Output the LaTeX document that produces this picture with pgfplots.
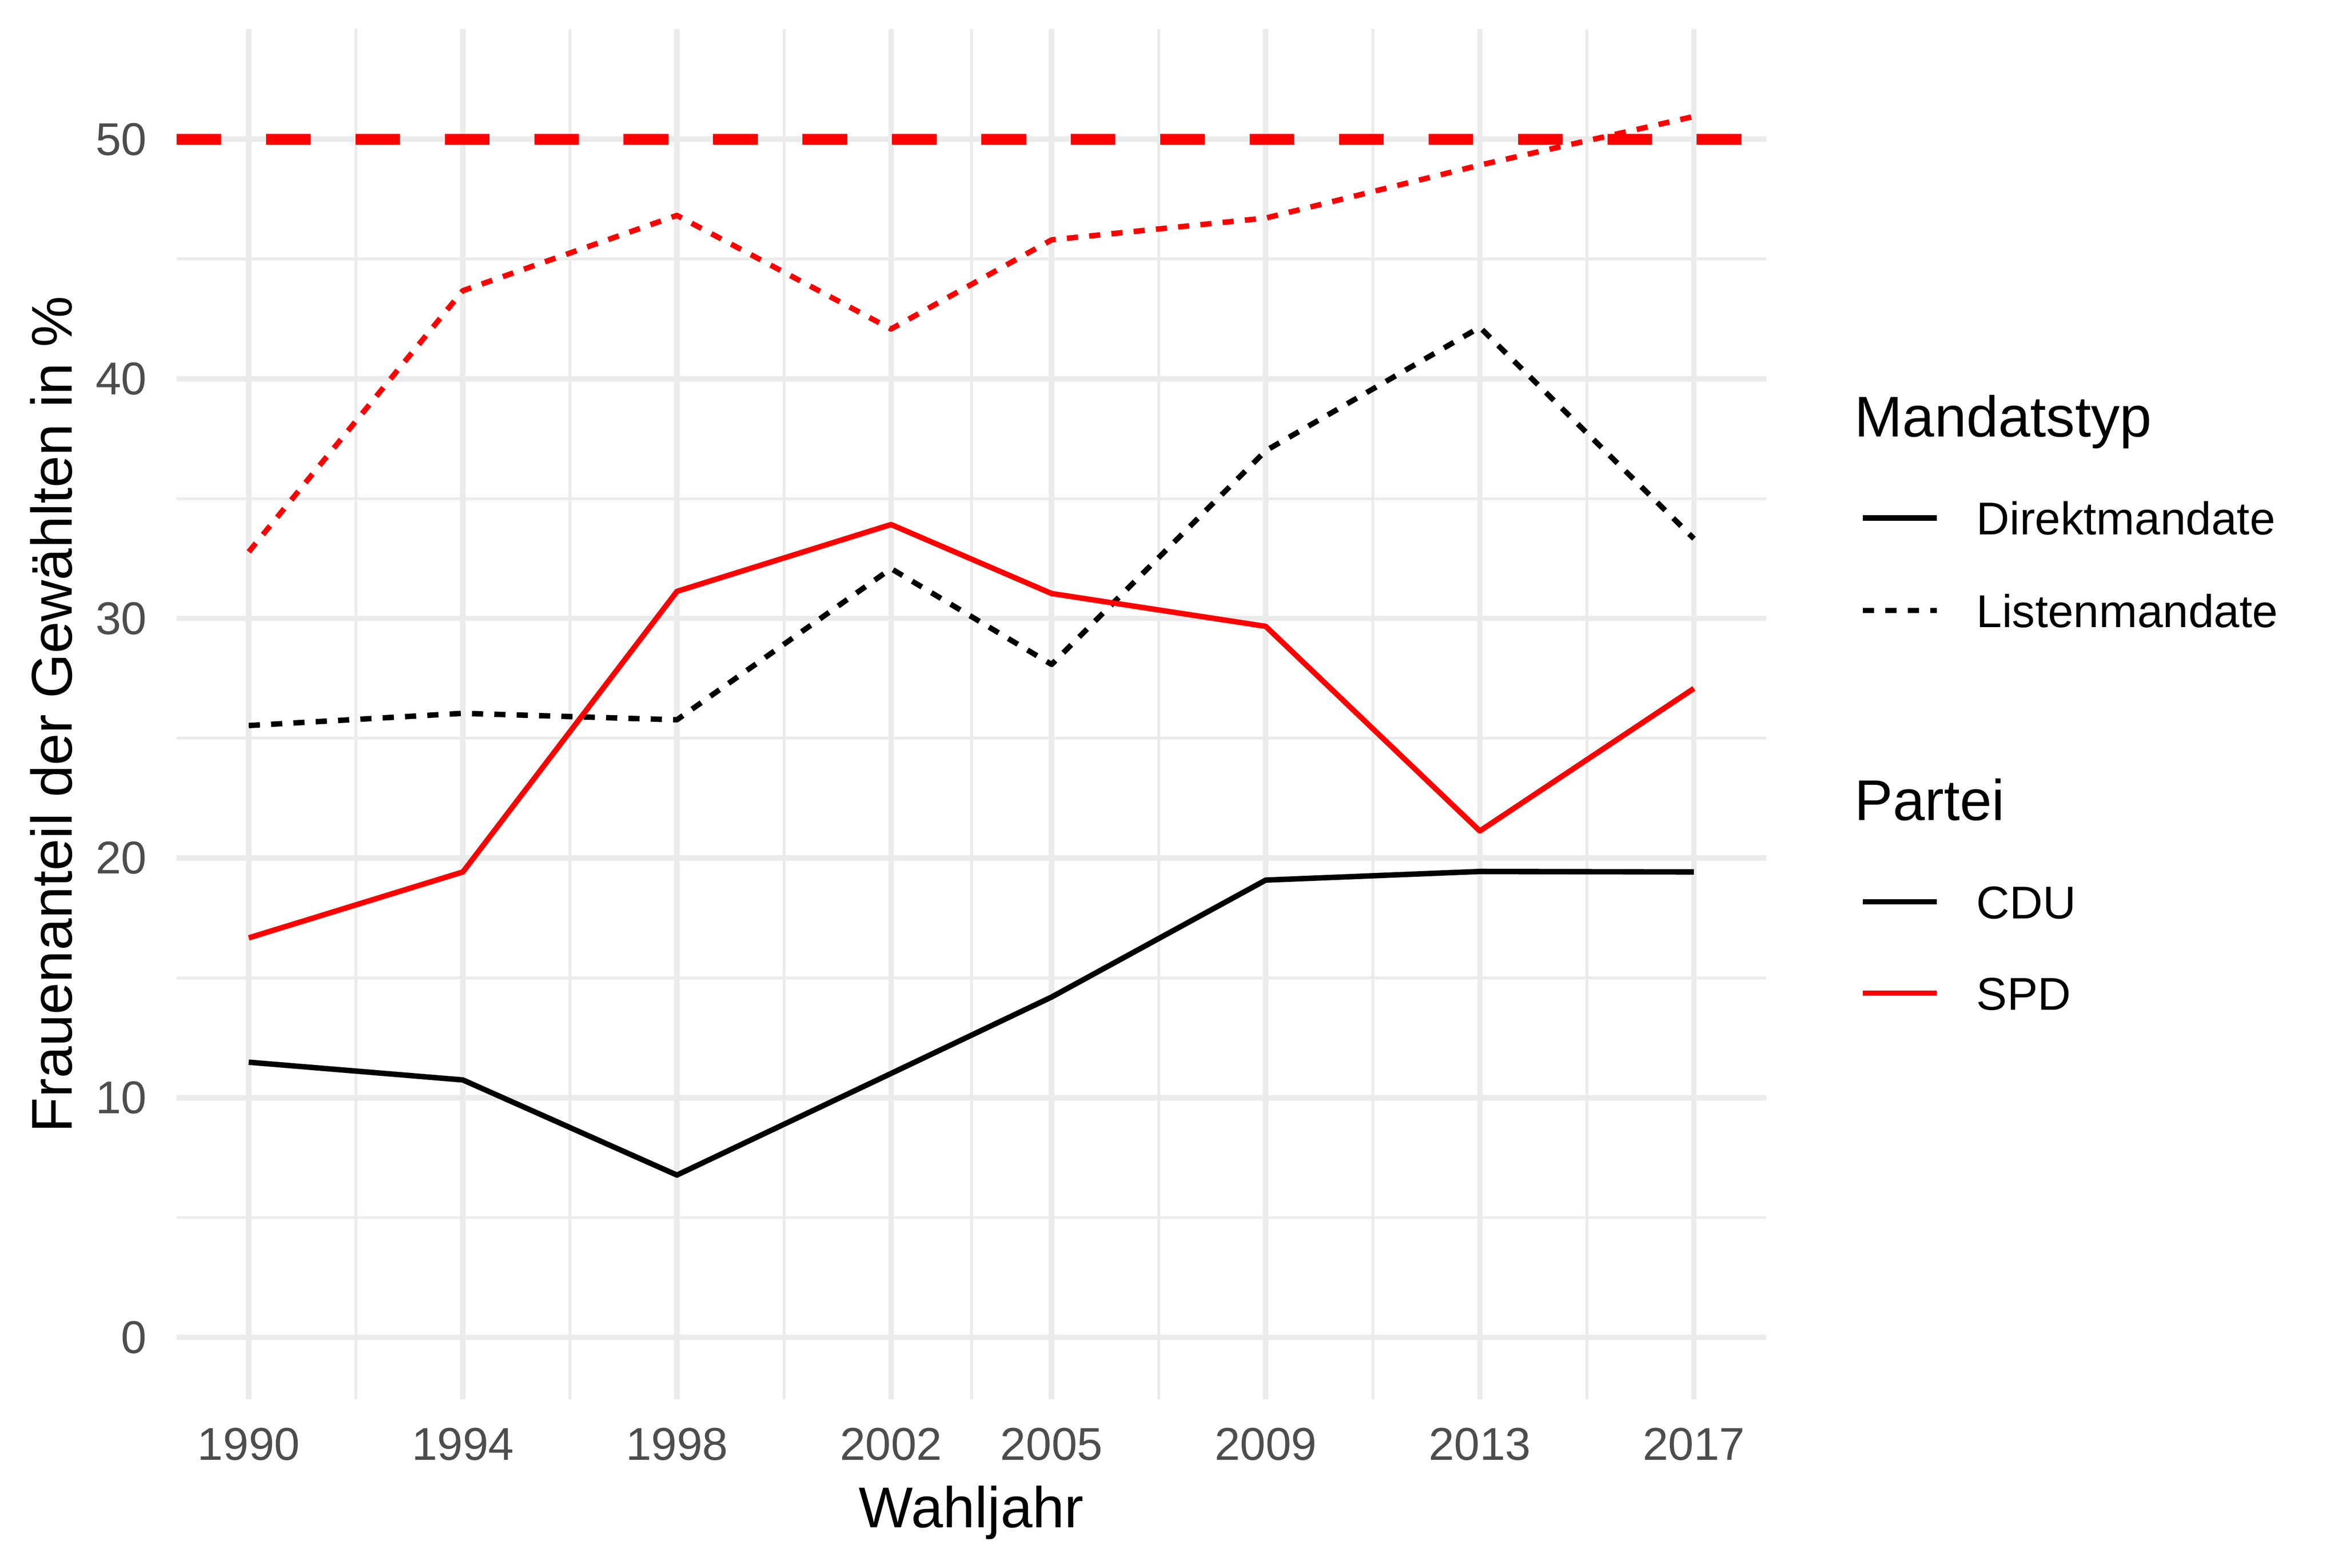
\documentclass[border=0pt]{standalone}
\usepackage{fontspec}
\setmainfont{Liberation Sans}
\usepackage{pgfplots}
\pgfplotsset{compat=1.18}
\definecolor{gridgrey}{HTML}{EBEBEB}
\definecolor{tickgrey}{HTML}{4D4D4D}
\definecolor{rred}{HTML}{FF0000}
\begin{document}
\begin{tikzpicture}
\useasboundingbox (-33.79pt,-32.20pt) rectangle (414.57pt,267.97pt);
\begin{axis}[
  at={(0pt,0pt)}, anchor=south west,
  scale only axis, width=304.33pt, height=262.42pt,
  xmin=1988.65, xmax=2018.35, ymin=-2.6, ymax=54.6,
  xtick={1990,1994,1998,2002,2005,2009,2013,2017},
  xticklabels={1990,1994,1998,2002,2005,2009,2013,2017},
  ytick={0,10,20,30,40,50},
  minor xtick={1992,1996,2000,2003.5,2007,2011,2015},
  minor ytick={5,15,25,35,45},
  xmajorgrids, ymajorgrids, xminorgrids, yminorgrids,
  major grid style={draw=gridgrey, line width=1.04pt},
  minor grid style={draw=gridgrey, line width=0.52pt},
  major tick length=0pt, minor tick length=0pt,
  axis line style={draw=none},
  /pgf/number format/assume math mode=true,
  ticklabel style={font=\fontsize{8.8}{10.56}\selectfont, text=tickgrey, inner sep=0pt},
  xticklabel style={anchor=north, yshift=-5.26pt},
  yticklabel style={anchor=east, xshift=-5.5pt},
  label style={font=\fontsize{11}{13.2}\selectfont, text=black, inner sep=0pt},
  xlabel={Wahljahr},
  ylabel={Frauenanteil der Gewählten in \%},
  xlabel style={at={(axis description cs:0.5,0)}, anchor=base, yshift=-24.5pt},
  ylabel style={at={(axis description cs:-0.06572,0.5)}, anchor=base},
  legend image code/.code={\draw[#1] (0pt,3.2pt) -- (14.1pt,3.2pt);},
  legend style={at={(1.0592,0.74048)}, anchor=north west, draw=none, fill=none,
    inner sep=0pt, outer sep=0pt, row sep=0pt, column sep=7.1pt,
    font=\fontsize{8.8}{10.56}\selectfont,
    nodes={inner sep=0pt, outer sep=0pt, text depth=3pt},
    cells={anchor=base west}},
]
% 50 % line
\addplot[rred, line width=2.1pt, dash pattern=on 8.56pt off 8.56pt, forget plot]
  coordinates {(1988.65,50) (2018.35,50)};
% CDU Direktmandate
\addplot[black, line width=1.04pt, line join=round, forget plot] coordinates {
  (1990,11.48) (1994,10.74) (1998,6.77) (2002,11.01) (2005,14.20) (2009,19.08) (2013,19.44) (2017,19.42)};
% CDU Listenmandate
\addplot[black, line width=1.04pt, line join=round, dash pattern=on 2.14pt off 2.14pt, forget plot] coordinates {
  (1990,25.53) (1994,26.04) (1998,25.77) (2002,32.08) (2005,28.08) (2009,37.00) (2013,42.15) (2017,33.33)};
% SPD Direktmandate
\addplot[rred, line width=1.04pt, line join=round, forget plot] coordinates {
  (1990,16.67) (1994,19.42) (1998,31.13) (2002,33.92) (2005,31.04) (2009,29.67) (2013,21.13) (2017,27.08)};
% SPD Listenmandate
\addplot[rred, line width=1.04pt, line join=round, dash pattern=on 2.14pt off 2.14pt, forget plot] coordinates {
  (1990,32.78) (1994,43.68) (1998,46.82) (2002,42.08) (2005,45.80) (2009,46.71) (2013,48.92) (2017,50.95)};
% legend
\addlegendimage{empty legend}
\addlegendentry{\makebox[0pt][l]{\hspace*{-23.8pt}\fontsize{11}{13.2}\selectfont Mandatstyp}\rule{0pt}{10pt}}
\addlegendimage{black, line width=1.04pt}
\addlegendentry{\rule{0pt}{15.70pt}Direktmandate}
\addlegendimage{black, line width=1.04pt, dash pattern=on 2.14pt off 2.14pt}
\addlegendentry{\rule{0pt}{14.72pt}Listenmandate}
\addlegendimage{empty legend}
\addlegendentry{\makebox[0pt][l]{\hspace*{-23.8pt}\fontsize{11}{13.2}\selectfont Partei}\rule{0pt}{33.97pt}}
\addlegendimage{black, line width=1.04pt}
\addlegendentry{\rule{0pt}{15.82pt}CDU}
\addlegendimage{rred, line width=1.04pt}
\addlegendentry{\rule{0pt}{14.48pt}SPD}
\end{axis}
\end{tikzpicture}
\end{document}
